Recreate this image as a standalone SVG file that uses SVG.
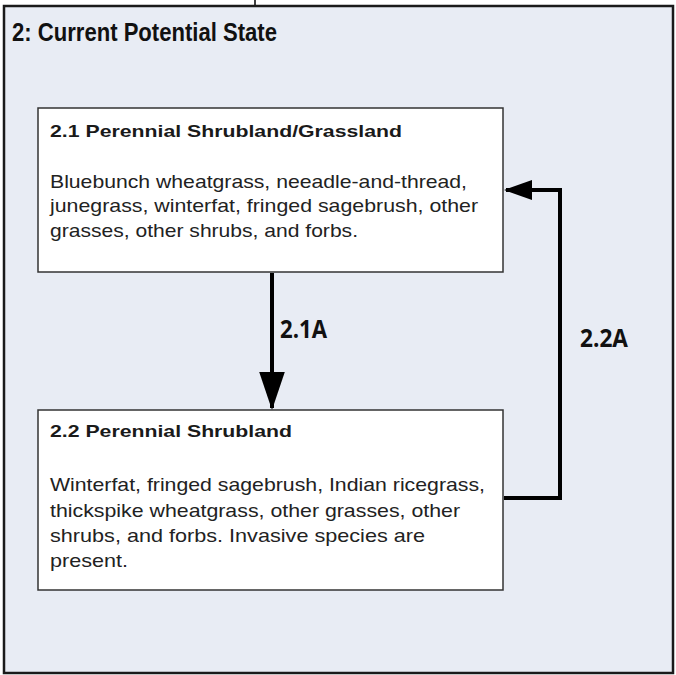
<svg xmlns="http://www.w3.org/2000/svg" width="676" height="675" viewBox="0 0 676 675">
<defs>
<style>
.frame{fill:#e8ecf4;stroke:#1a1a1a;stroke-width:2.5}
.box{fill:#ffffff;stroke:#333;stroke-width:1.5}
.title{font-family:"Liberation Sans",Arial,sans-serif;font-weight:bold;font-size:25px;fill:#111}
.head{font-family:"Liberation Sans",Arial,sans-serif;font-weight:bold;font-size:17px;fill:#1a1a1a}
.body{font-family:"Liberation Sans",Arial,sans-serif;font-size:19px;fill:#222}
.lbl{font-family:"Open Sans","Liberation Sans",sans-serif;font-weight:bold;font-size:25px;fill:#111}
.conn{fill:none;stroke:#000;stroke-width:4}
</style>
<marker id="ah" markerWidth="7" markerHeight="5" refX="6.5" refY="2.5" orient="auto" markerUnits="strokeWidth">
<path d="M0,0 L7,2.5 L0,5 Z" fill="#000"/>
</marker>
<marker id="ah2" markerWidth="9.5" markerHeight="6.4" refX="9" refY="3.2" orient="auto" markerUnits="strokeWidth">
<path d="M0,0 L9.5,3.2 L0,6.4 Z" fill="#000"/>
</marker>
</defs>
<line x1="255" y1="0" x2="255" y2="6" stroke="#000" stroke-width="1.5"/>
<g id="state2">
<rect class="frame" x="4" y="6" width="669" height="667"/>
<text class="title" x="12" y="41" textLength="265" lengthAdjust="spacingAndGlyphs">2: Current Potential State</text>
</g>
<g id="connectors">
<line class="conn" x1="272" y1="273" x2="272" y2="408" stroke-width="3" marker-end="url(#ah2)"/>
<polyline class="conn" points="504,498 560,498 560,190 506,190" marker-end="url(#ah)"/>
<text class="lbl" x="280" y="338" textLength="47" lengthAdjust="spacingAndGlyphs">2.1A</text>
<text class="lbl" x="580" y="347" textLength="48" lengthAdjust="spacingAndGlyphs">2.2A</text>
</g>
<g id="node21">
<rect class="box" x="38" y="108" width="465" height="164"/>
<text class="head" x="50" y="137" textLength="352" lengthAdjust="spacingAndGlyphs">2.1 Perennial Shrubland/Grassland</text>
<text class="body" x="50" y="188" textLength="417" lengthAdjust="spacingAndGlyphs">Bluebunch wheatgrass, neeadle-and-thread,</text>
<text class="body" x="50" y="212" textLength="428" lengthAdjust="spacingAndGlyphs">junegrass, winterfat, fringed sagebrush, other</text>
<text class="body" x="50" y="237" textLength="308" lengthAdjust="spacingAndGlyphs">grasses, other shrubs, and forbs.</text>
</g>
<g id="node22">
<rect class="box" x="38" y="410" width="465" height="180"/>
<text class="head" x="50" y="437" textLength="242" lengthAdjust="spacingAndGlyphs">2.2 Perennial Shrubland</text>
<text class="body" x="50" y="491" textLength="435" lengthAdjust="spacingAndGlyphs">Winterfat, fringed sagebrush, Indian ricegrass,</text>
<text class="body" x="50" y="517" textLength="410" lengthAdjust="spacingAndGlyphs">thickspike wheatgrass, other grasses, other</text>
<text class="body" x="50" y="542" textLength="375" lengthAdjust="spacingAndGlyphs">shrubs, and forbs.  Invasive species are</text>
<text class="body" x="50" y="567" textLength="78" lengthAdjust="spacingAndGlyphs">present.</text>
</g>
</svg>
